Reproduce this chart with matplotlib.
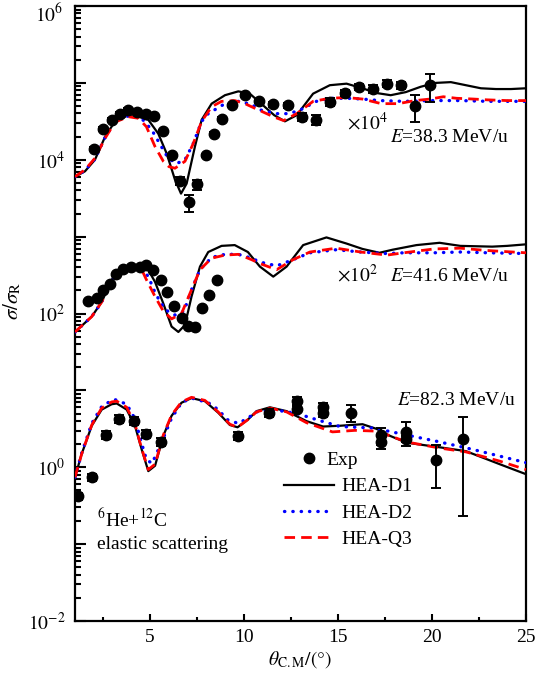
import numpy as np
import matplotlib
matplotlib.use("Agg")
import matplotlib.pyplot as plt
from matplotlib.ticker import LogLocator, MultipleLocator, FuncFormatter, NullFormatter
from matplotlib.lines import Line2D

plt.rcParams['font.family'] = ['Liberation Serif', 'DejaVu Serif']
plt.rcParams['mathtext.fontset'] = 'stix'

# values are log10(sigma/sigma_R) (before the x10^n offsets)
# ---- E = 38.3 MeV/u (shown x10^4) ----
exp38_x = [2.0, 2.5, 2.95, 3.4, 3.84, 4.3, 4.78, 5.2, 5.66, 6.14, 6.6, 7.06, 7.5, 7.97, 8.4, 8.8,
           9.33, 10.06, 10.8, 11.55, 12.35, 13.06, 13.85, 14.56, 15.36, 16.12, 16.87, 17.58, 18.37, 19.09, 19.9]
exp38_lg = [0.14, 0.40, 0.52, 0.60, 0.65, 0.62, 0.60, 0.57, 0.37, 0.06, -0.27, -0.55, -0.32, 0.06, 0.34, 0.53,
            0.71, 0.84, 0.76, 0.72, 0.71, 0.56, 0.52, 0.75, 0.87, 0.95, 0.92, 0.99, 0.97, 0.70, 0.97]
exp38_err = [0.05, 0.05, 0.05, 0.05, 0.05, 0.05, 0.05, 0.05, 0.05, 0.05, 0.12, 0.25, 0.15, 0.05, 0.05, 0.05,
             0.05, 0.05, 0.05, 0.08, 0.08, 0.12, 0.15, 0.12, 0.1, 0.1, 0.12, 0.1, 0.1, 0.38, 0.4]

d1_38_x = [1.0, 1.53, 2.06, 2.6, 3.13, 3.75, 4.37, 4.9, 5.43, 5.88, 6.32, 6.64, 6.94, 7.38, 7.74, 8.27, 8.98,
           9.69, 10.3, 11.0, 11.6, 12.17, 12.8, 13.67, 14.56, 15.45, 16.3, 17.0, 17.8, 18.6, 19.4, 20.2, 21.0,
           21.8, 22.6, 23.4, 24.2, 25.0]
d1_38_lg = [-0.22, -0.15, 0.0, 0.30, 0.50, 0.57, 0.56, 0.52, 0.34, 0.08, -0.26, -0.44, -0.31, 0.17, 0.52, 0.73, 0.84,
            0.89, 0.86, 0.71, 0.58, 0.50, 0.58, 0.86, 0.97, 0.99, 0.93, 0.87, 0.84, 0.88, 0.95, 1.0, 1.01,
            0.97, 0.93, 0.92, 0.92, 0.93]
d2_38_x = [1.0, 1.53, 2.06, 2.6, 3.13, 3.84, 4.5, 5.08, 5.6, 5.96, 6.4, 6.85, 7.29, 7.74, 8.09, 8.98, 9.7,
           10.4, 10.84, 11.7, 12.4, 13.0, 13.85, 14.56, 15.45, 16.3, 17.2, 18.5, 20.0, 21.5, 23.0, 25.0]
d2_38_lg = [-0.22, -0.14, 0.01, 0.29, 0.50, 0.57, 0.55, 0.39, 0.17, 0.02, -0.05, 0.0, 0.21, 0.50, 0.60, 0.73, 0.76,
            0.72, 0.65, 0.60, 0.60, 0.65, 0.76, 0.80, 0.80, 0.79, 0.77, 0.76, 0.77, 0.77, 0.76, 0.76]
q3_38_x = [1.0, 1.53, 2.06, 2.6, 3.13, 3.84, 4.37, 4.8, 5.26, 5.7, 6.0, 6.32, 6.85, 7.29, 7.74, 8.27, 8.8,
           9.5, 10.04, 10.66, 11.2, 11.55, 12.1, 12.8, 13.67, 14.56, 15.45, 16.3, 17.3, 18.2, 19.1, 19.9, 20.6,
           21.3, 22.2, 22.9, 24.0, 25.0]
q3_38_lg = [-0.22, -0.13, 0.02, 0.28, 0.49, 0.56, 0.54, 0.43, 0.17, -0.02, -0.09, -0.11, -0.02, 0.21, 0.50, 0.69, 0.76,
            0.77, 0.73, 0.66, 0.60, 0.56, 0.51, 0.60, 0.76, 0.80, 0.81, 0.79, 0.73, 0.73, 0.77, 0.79, 0.82,
            0.80, 0.79, 0.78, 0.77, 0.77]

# ---- E = 41.6 MeV/u (shown x10^2) ----
exp41_x = [1.68, 2.18, 2.5, 2.86, 3.2, 3.57, 4.0, 4.46, 4.8, 5.16, 5.55, 5.87, 6.26, 6.67, 7.03, 7.38, 7.74, 8.14, 8.53]
exp41_lg = [0.16, 0.20, 0.31, 0.39, 0.52, 0.58, 0.61, 0.61, 0.63, 0.57, 0.44, 0.28, 0.10, -0.06, -0.16, -0.17, 0.07, 0.24, 0.44]

d1_41_x = [1.0, 1.89, 2.42, 2.95, 3.48, 4.19, 4.8, 5.26, 5.7, 6.14, 6.5, 6.85, 7.2, 7.65, 8.09, 8.8, 9.5,
           10.2, 10.84, 11.55, 12.26, 13.14, 14.38, 15.45, 16.3, 17.2, 17.9, 19.17, 20.4, 21.5, 23.2, 24.0, 25.0]
d1_41_lg = [-0.24, -0.04, 0.15, 0.44, 0.59, 0.63, 0.61, 0.41, 0.13, -0.17, -0.24, -0.15, 0.22, 0.61, 0.80, 0.88, 0.89,
            0.80, 0.61, 0.48, 0.61, 0.89, 0.99, 0.91, 0.84, 0.79, 0.83, 0.89, 0.92, 0.88, 0.87, 0.88, 0.90]
d2_41_x = [1.0, 1.89, 2.42, 2.95, 3.48, 4.0, 4.55, 4.9, 5.3, 5.8, 6.32, 6.8, 7.2, 7.65, 8.27, 8.98, 9.69,
           10.4, 10.84, 11.73, 12.6, 13.5, 14.9, 16.2, 17.6, 18.5, 20.1, 21.5, 23.0, 25.0]
d2_41_lg = [-0.24, -0.04, 0.15, 0.43, 0.57, 0.61, 0.59, 0.48, 0.25, 0.05, -0.02, 0.03, 0.31, 0.57, 0.73, 0.77, 0.77,
            0.72, 0.67, 0.62, 0.70, 0.79, 0.83, 0.80, 0.78, 0.79, 0.79, 0.80, 0.79, 0.78]
q3_41_x = [1.0, 1.89, 2.42, 2.95, 3.48, 3.93, 4.55, 4.8, 5.26, 5.7, 6.14, 6.67, 7.2, 7.65, 8.27, 8.98, 9.69,
           10.4, 10.84, 11.73, 12.6, 13.5, 14.9, 16.2, 17.6, 18.5, 20.1, 21.5, 22.9, 25.0]
q3_41_lg = [-0.24, -0.04, 0.15, 0.42, 0.55, 0.59, 0.57, 0.44, 0.22, 0.03, -0.07, 0.0, 0.31, 0.57, 0.72, 0.76, 0.77,
            0.70, 0.65, 0.57, 0.70, 0.80, 0.85, 0.80, 0.76, 0.79, 0.84, 0.85, 0.82, 0.79]

# ---- E = 82.3 MeV/u (x1) ----
exp82_x = [1.14, 1.89, 2.63, 3.36, 4.16, 4.8, 5.57, 9.69, 11.33, 12.8, 12.8, 14.2, 14.2, 15.68, 17.3, 17.3,
           18.64, 18.64, 20.2, 21.65]
exp82_lg = [-0.38, -0.13, 0.42, 0.63, 0.60, 0.43, 0.33, 0.41, 0.71, 0.86, 0.76, 0.79, 0.70, 0.71, 0.42, 0.33,
            0.46, 0.37, 0.10, 0.37]
exp82_err = [0.1, 0.1, 0.12, 0.12, 0.12, 0.12, 0.12, 0.12, 0.12, 0.12, 0.1, 0.12, 0.1, 0.25, 0.25, 0.2,
             0.35, 0.1, 0.57, 0.9]

d1_82_x = [1.0, 1.35, 1.89, 2.42, 2.95, 3.22, 3.75, 4.19, 4.55, 4.9, 5.26, 5.7, 6.14, 6.67, 7.2, 7.91, 8.62,
           9.24, 9.65, 10.2, 10.66, 11.37, 12.26, 13.32, 14.2, 15.1, 16.3, 17.04, 17.75, 18.64, 20.4, 21.8, 23.6, 25.0]
d1_82_lg = [-0.13, 0.17, 0.54, 0.75, 0.82, 0.83, 0.75, 0.54, 0.23, -0.05, 0.02, 0.41, 0.67, 0.84, 0.90, 0.86, 0.71,
            0.55, 0.52, 0.62, 0.73, 0.78, 0.73, 0.60, 0.53, 0.54, 0.56, 0.50, 0.41, 0.32, 0.26, 0.21, 0.04, -0.09]
d2_82_x = [1.0, 1.35, 1.89, 2.42, 2.95, 3.13, 3.75, 4.19, 4.5, 4.8, 5.1, 5.6, 6.14, 6.67, 7.2, 8.09, 8.62,
           9.1, 9.69, 10.2, 10.66, 11.55, 12.8, 13.85, 15.1, 16.9, 18.64, 20.4, 22.2, 25.0]
d2_82_lg = [-0.13, 0.18, 0.57, 0.79, 0.87, 0.88, 0.82, 0.63, 0.35, 0.10, 0.05, 0.32, 0.64, 0.84, 0.90, 0.84, 0.75,
            0.62, 0.57, 0.64, 0.72, 0.75, 0.70, 0.62, 0.53, 0.51, 0.42, 0.33, 0.23, 0.06]
q3_82_x = [1.0, 1.35, 1.89, 2.42, 2.95, 3.22, 3.75, 4.19, 4.55, 4.9, 5.26, 5.7, 6.14, 6.67, 7.2, 7.91, 8.62,
           9.24, 9.65, 10.2, 10.66, 11.37, 12.26, 13.32, 14.7, 15.9, 17.04, 17.75, 18.64, 20.4, 21.8, 23.6, 25.0]
q3_82_lg = [-0.13, 0.17, 0.55, 0.77, 0.85, 0.86, 0.78, 0.56, 0.24, -0.03, 0.04, 0.42, 0.68, 0.85, 0.91, 0.87, 0.72,
            0.56, 0.52, 0.62, 0.72, 0.77, 0.72, 0.58, 0.46, 0.48, 0.47, 0.41, 0.33, 0.25, 0.20, 0.08, -0.03]

scale38, scale41, scale82 = 1e4, 1e2, 1.0


def val(lg, s):
    return 10 ** np.array(lg) * s


fig = plt.figure(figsize=(5.37, 6.77), dpi=100)
ax = fig.add_axes([0.1397, 0.0827, 0.8398, 0.9084])

sty_d1 = dict(color='black', lw=1.6, ls='-')
sty_d2 = dict(color='#0000ff', lw=2.4, ls=(0, (0.1, 2.4)), dash_capstyle='round')
sty_q3 = dict(color='#ff0000', lw=2.0, ls=(0, (3.8, 2.2)))

for xs, lg, s in [(d1_38_x, d1_38_lg, scale38), (d1_41_x, d1_41_lg, scale41), (d1_82_x, d1_82_lg, scale82)]:
    ax.plot(xs, val(lg, s), zorder=3, **sty_d1)
for xs, lg, s in [(d2_38_x, d2_38_lg, scale38), (d2_41_x, d2_41_lg, scale41), (d2_82_x, d2_82_lg, scale82)]:
    ax.plot(xs, val(lg, s), zorder=4, **sty_d2)
for xs, lg, s in [(q3_38_x, q3_38_lg, scale38), (q3_41_x, q3_41_lg, scale41), (q3_82_x, q3_82_lg, scale82)]:
    ax.plot(xs, val(lg, s), zorder=5, **sty_q3)

mk = dict(fmt='o', color='black', ms=7.5, capsize=3.5, elinewidth=1.4, capthick=1.4, zorder=6)
y38 = val(exp38_lg, scale38)
ax.errorbar(exp38_x, y38, yerr=y38 * np.array(exp38_err), **mk)
y41 = val(exp41_lg, scale41)
ax.errorbar(exp41_x, y41, **mk)
y82 = val(exp82_lg, scale82)
ax.errorbar(exp82_x, y82, yerr=y82 * np.array(exp82_err), **mk)

# legends: the Exp entry sits a bit left of the line entries, as in the original
h_exp = Line2D([], [], ls='none', marker='o', color='black', ms=7.5)
leg1 = ax.legend([h_exp], ['Exp'], loc='upper left', bbox_to_anchor=(0.497, 0.276), frameon=False,
                 fontsize=14, handlelength=1.0, handletextpad=0.4, borderpad=0, borderaxespad=0)
ax.add_artist(leg1)
h1 = Line2D([], [], **sty_d1)
h2 = Line2D([], [], **sty_d2)
h3 = Line2D([], [], **sty_q3)
ax.legend([h1, h2, h3], ['HEA-D1', 'HEA-D2', 'HEA-Q3'],
          loc='upper left', bbox_to_anchor=(0.463, 0.233), frameon=False, fontsize=14,
          handlelength=2.6, handletextpad=0.35, labelspacing=0.45, borderpad=0, borderaxespad=0)

ax.set_xlim(1, 25)
ax.set_ylim(1e-2, 1e6)
ax.set_yscale('log')

ax.xaxis.set_major_locator(MultipleLocator(5))
ax.xaxis.set_minor_locator(MultipleLocator(2.5))
ax.yaxis.set_major_locator(LogLocator(base=10, numticks=20))
ax.yaxis.set_minor_locator(LogLocator(base=10, subs=np.arange(2, 10), numticks=20))
ax.yaxis.set_minor_formatter(NullFormatter())


def ylab(v, pos):
    e = int(round(np.log10(v)))
    # labels on every second decade; the top one is placed by hand below
    if e % 2 != 0 or e >= 6:
        return ''
    return r'$10^{%d}$' % e


ax.yaxis.set_major_formatter(FuncFormatter(ylab))

ax.tick_params(axis='both', which='both', direction='in', top=False, right=False, width=1.5)
ax.tick_params(axis='y', which='major', length=8, labelsize=14, pad=7)
ax.tick_params(axis='y', which='minor', length=4.5)
ax.tick_params(axis='x', which='major', length=5, labelsize=14, pad=6)
ax.tick_params(axis='x', which='minor', length=3)
for sp in ax.spines.values():
    sp.set_linewidth(1.6)

ax.text(-0.026, 1.005, r'$10^{6}$', transform=ax.transAxes, fontsize=14, ha='right', va='top')

ax.set_xlabel(r'$\theta_{\rm C.M}/(°)$', fontsize=14, labelpad=2)
ax.set_ylabel(r'$\sigma/\sigma_{\rm R}$', fontsize=15)
ax.yaxis.set_label_coords(-0.115, 0.52)

fs = 14
ax.text(15.5, 10 ** 4.48, r'$\times10^{4}$', fontsize=fs, ha='left', va='center')
ax.text(17.76, 10 ** 4.29, r'$E$=38.3 MeV/u', fontsize=fs, ha='left', va='center')
ax.text(14.94, 10 ** 2.51, r'$\times10^{2}$', fontsize=fs, ha='left', va='center')
ax.text(17.76, 10 ** 2.48, r'$E$=41.6 MeV/u', fontsize=fs, ha='left', va='center')
ax.text(18.13, 10 ** 0.87, r'$E$=82.3 MeV/u', fontsize=fs, ha='left', va='center')
ax.text(2.17, 10 ** -0.68, r'$^{6}$He+$^{12}$C', fontsize=fs, ha='left', va='center')
ax.text(2.17, 10 ** -1.01, 'elastic scattering', fontsize=fs, ha='left', va='center')

fig.savefig('out.png', dpi=100)
